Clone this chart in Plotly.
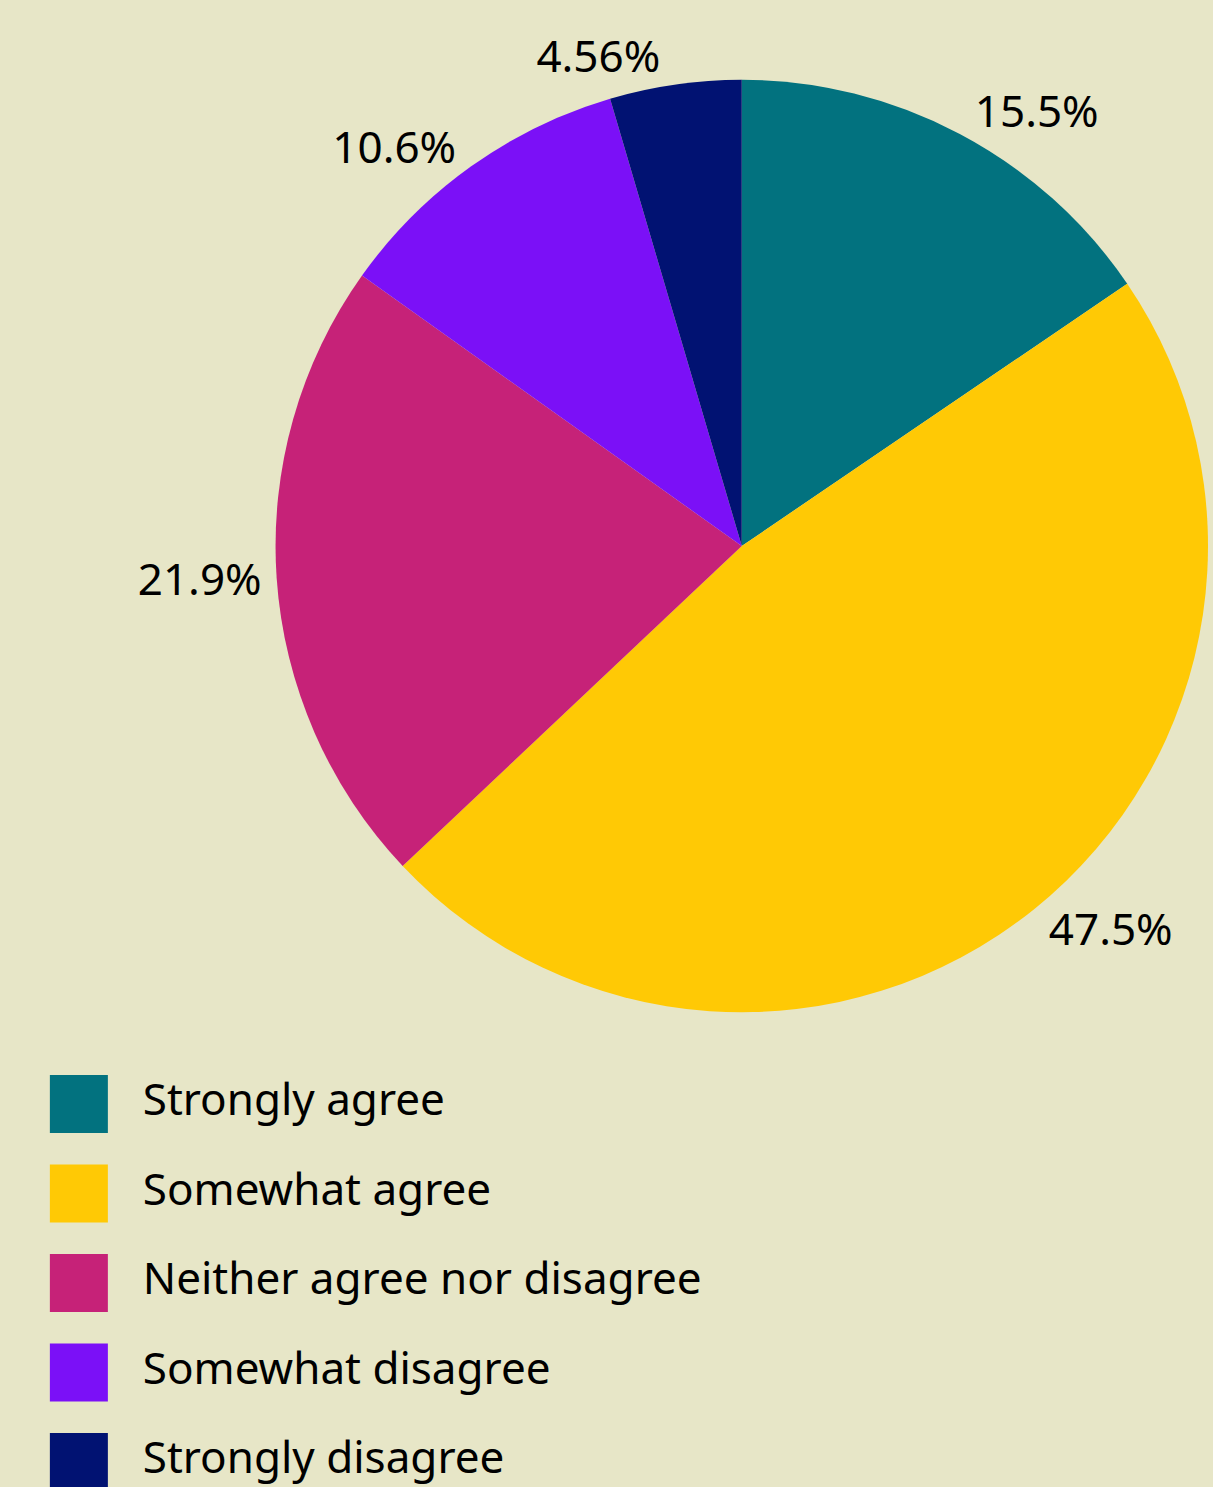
import plotly.graph_objects as go

categories = ["Strongly agree", "Somewhat agree", "Neither agree nor disagree",
              "Somewhat disagree", "Strongly disagree"]
values = [15.5, 47.5, 21.9, 10.6, 4.56]
value_labels = ["15.5%", "47.5%", "21.9%", "10.6%", "4.56%"]
colors = ["#02727F", "#FFC905", "#C62278", "#7B10F7", "#011272"]

BG = "#E7E6C7"
FONT = "Noto Sans"
W, H = 1213, 1487

fig = go.Figure()

fig.add_trace(go.Pie(
    labels=categories,
    values=values,
    text=value_labels,
    texttemplate="%{text}",
    textinfo="text",
    textposition="outside",
    textfont=dict(family=FONT, size=44, color="#000000"),
    marker=dict(colors=colors, line=dict(width=0)),
    sort=False,
    direction="clockwise",
    rotation=0,
    showlegend=False,
    hoverinfo="skip",
    domain=dict(x=[276 / W, 1210 / W], y=[1 - 1013 / H, 1 - 79 / H]),
))

idx = list(range(len(categories)))

# custom legend (large square swatches)
fig.add_trace(go.Scatter(
    x=[0] * len(categories), y=idx, mode="markers",
    marker=dict(symbol="square", size=58, color=colors, line=dict(width=0)),
    showlegend=False, hoverinfo="skip", xaxis="x", yaxis="y",
))
fig.add_trace(go.Scatter(
    x=[64] * len(categories), y=idx, mode="text",
    text=categories, textposition="middle right",
    textfont=dict(family=FONT, size=44, color="#000000"),
    showlegend=False, hoverinfo="skip", xaxis="x", yaxis="y",
))

top_px = 1041
row0, step = 1104, 89.5
fig.update_layout(
    width=W, height=H,
    paper_bgcolor=BG, plot_bgcolor=BG,
    margin=dict(l=0, r=0, t=0, b=0),
    xaxis=dict(range=[-79, W - 79], visible=False, domain=[0, 1], fixedrange=True),
    yaxis=dict(range=[(H - row0) / step, (top_px - row0) / step], visible=False,
               domain=[0, 1 - top_px / H], fixedrange=True),
)

fig.write_html("out.html")
